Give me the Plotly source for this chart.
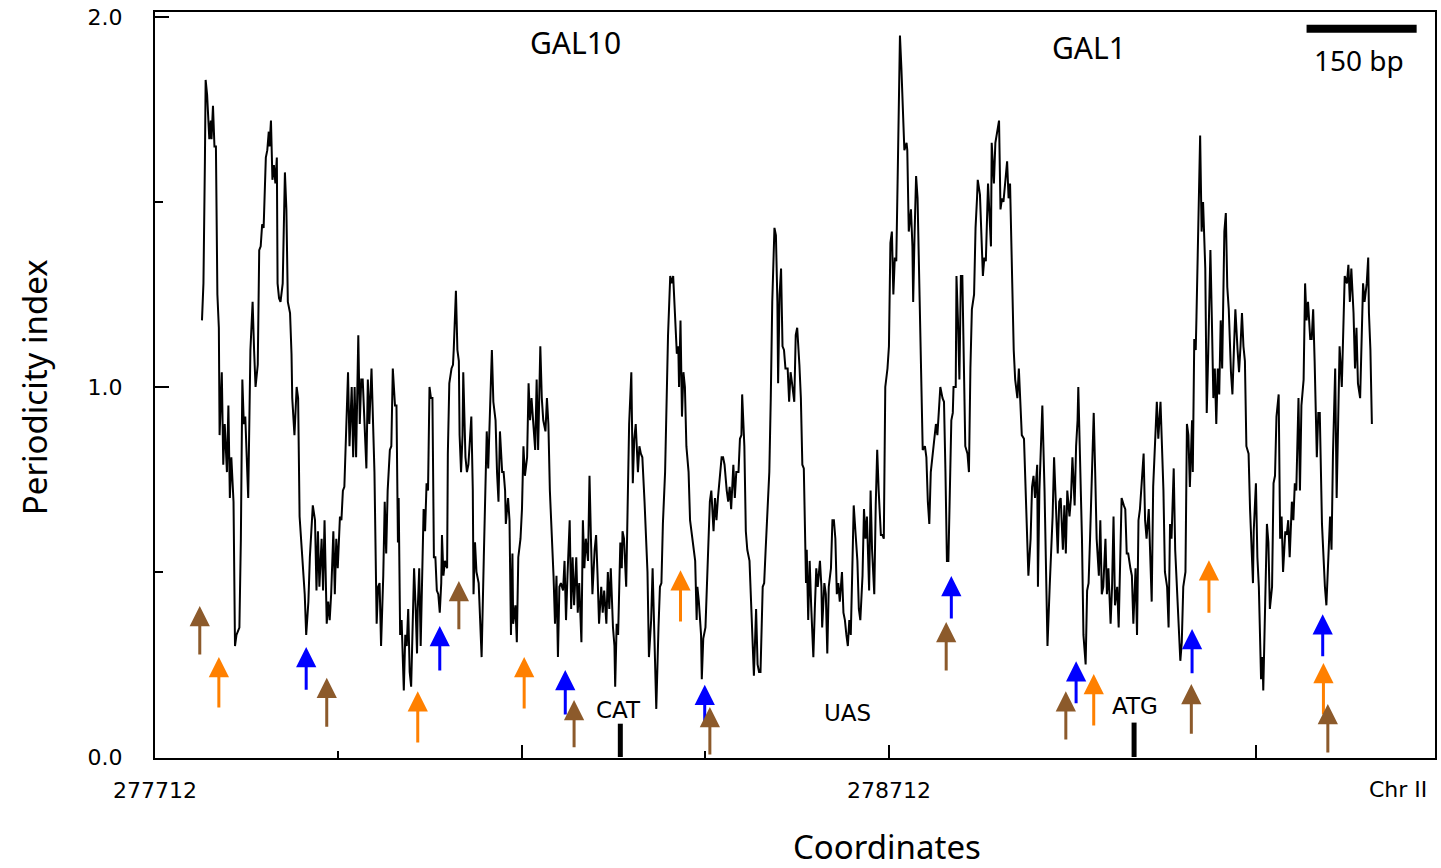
import plotly.graph_objects as go

START = 277712  # Chr II coordinate at the left edge of the plot

# ---- periodicity trace (offset in bp from START, periodicity index) ----
offset_bp = [
    64, 66, 68, 69, 71, 74, 76, 77, 79, 81, 83, 85, 87, 88, 91, 93, 95, 98, 100, 102,
    104, 107, 109, 111, 115, 117, 119, 121, 123, 127, 130, 133, 135, 137, 140, 142, 144, 146, 148, 151,
    153, 155, 156, 158, 160, 162, 164, 166, 167, 169, 171, 174, 177, 179, 181, 184, 186, 187, 190, 193,
    195, 197, 200, 202, 204, 206, 209, 211, 213, 215, 218, 220, 222, 224, 227, 229, 231, 234, 236, 238,
    240, 243, 245, 247, 249, 252, 254, 256, 258, 261, 263, 265, 268, 270, 272, 274, 277, 279, 281, 283,
    286, 288, 290, 292, 295, 297, 299, 302, 304, 306, 308, 311, 313, 315, 317, 320,
    322, 324, 327, 329, 331, 332, 334, 336, 339, 341, 343, 345, 347, 349, 351, 353, 355, 357, 358, 360,
    362, 364, 366, 368, 370, 372, 374, 376, 378, 380, 382, 384, 386, 388, 390, 391, 393, 395, 398, 399,
    401, 404, 406, 407, 409, 410, 412, 414, 415, 417, 419, 420, 423, 425, 427, 429, 431, 433, 434, 436,
    438, 441, 443, 445, 448, 450, 452, 454, 457, 459, 461, 464, 466, 468, 470, 473, 475, 477, 478, 481,
    483, 485, 487, 488, 491, 493, 495, 498, 500, 502, 504, 507, 509, 511, 513, 516, 518, 520, 522, 525,
    527, 529, 532, 534, 536, 538, 541, 543, 545, 547, 549, 551, 553, 556, 558, 560, 562, 565, 567, 569,
    571, 574, 576, 578, 581, 583,
    585, 587, 590, 592, 594, 596, 599, 601, 603, 605, 608, 610, 612, 615, 617, 619, 621, 624, 626, 627,
    629, 631, 634, 636, 637, 639, 642, 644, 646, 649, 651, 653, 655, 658, 660, 662, 664, 667, 669, 671,
    673, 676, 678, 680, 683, 686, 688, 690, 692, 695, 697, 699, 702, 704, 706, 708, 711, 713, 714, 716,
    718, 720, 722, 724, 727, 729, 731, 733, 736, 738, 739, 741, 744, 745, 747, 750, 752, 754, 756, 758,
    761, 763, 765, 767, 770, 772, 774, 776, 779, 781, 783, 785, 788, 790, 792, 795, 797, 799, 800, 803,
    805, 807, 810, 812, 814, 816, 819, 821, 823, 825, 828, 830, 832, 834, 837, 839, 841, 844, 846, 848,
    849,
    851, 853, 855, 857, 859, 862, 864, 866, 868, 871, 873, 875, 878, 880, 882, 884, 887, 888, 890, 892,
    894, 897, 899, 901, 903, 906, 908, 909, 912, 914, 916, 918, 921, 923, 925, 927, 929, 931, 933, 936,
    938, 940, 942, 944, 946, 948, 950, 952, 955, 957, 959, 961, 964, 966, 968, 970, 973, 975, 977, 980,
    982, 984, 986, 989, 991, 993, 995, 998, 1000, 1002, 1004, 1006, 1008, 1010, 1012, 1014, 1015, 1017, 1019, 1021,
    1024, 1025, 1027, 1030, 1032, 1033, 1035, 1037, 1039, 1042, 1044, 1046, 1049, 1051, 1053, 1055, 1057, 1059, 1061, 1064,
    1066, 1068, 1070, 1073, 1075, 1077, 1079, 1081, 1083, 1085, 1087, 1088, 1091, 1092, 1094, 1096, 1098, 1100, 1102, 1104,
    1107, 1109,
    1111, 1113, 1116, 1118, 1120, 1121, 1124, 1126, 1128, 1130, 1132, 1135, 1137, 1139, 1140, 1143, 1145, 1147, 1150, 1152,
    1154, 1156, 1159, 1161, 1163, 1165, 1168, 1170, 1172, 1175, 1177, 1179, 1181, 1184, 1186, 1188, 1190, 1193, 1195, 1197,
    1199, 1202, 1203, 1205, 1208, 1209, 1212, 1214, 1216, 1219, 1221, 1223, 1225, 1228, 1230, 1232, 1234, 1237, 1239, 1241,
    1243, 1246, 1248, 1250, 1253, 1255, 1257, 1258, 1261, 1263, 1265, 1268, 1270, 1272, 1274, 1277, 1279, 1281, 1283, 1286,
    1288, 1290, 1292, 1295, 1297, 1299, 1302, 1304, 1306, 1308, 1311, 1313, 1315, 1317, 1320, 1322, 1324, 1326, 1329, 1331,
    1333, 1336, 1338, 1340, 1342, 1345, 1347, 1349, 1351, 1354, 1356, 1358, 1360, 1363, 1365, 1367, 1370, 1372, 1374,
    1376, 1379, 1381, 1383, 1385, 1388, 1390, 1392, 1394, 1397, 1399, 1401, 1404, 1406, 1408, 1410, 1413, 1414, 1416, 1418,
    1419, 1422, 1424, 1426, 1428, 1431, 1433, 1435, 1438, 1440, 1442, 1444, 1446, 1448, 1450, 1452, 1454, 1457, 1459, 1461,
    1463, 1466, 1468, 1470, 1472, 1475, 1477, 1479, 1481, 1483, 1485, 1487, 1490, 1492, 1494, 1496, 1497, 1500, 1502, 1504,
    1507, 1509, 1510, 1512, 1515, 1517, 1519, 1522, 1524, 1526, 1528, 1531, 1533, 1535, 1537, 1540, 1542, 1544, 1546, 1549,
    1551, 1553, 1555, 1558, 1560, 1562, 1565, 1567, 1569, 1571, 1574, 1576, 1578, 1580, 1583, 1585, 1587, 1590, 1592, 1594,
    1596, 1599, 1601, 1603, 1605, 1608, 1610, 1612, 1614, 1617, 1619, 1621, 1624, 1626, 1628, 1630, 1633, 1635, 1637, 1639,
    1642, 1644, 1646, 1648, 1651, 1653, 1654, 1656, 1658,
]

periodicity = [
    1.18, 1.28, 1.61, 1.83, 1.79, 1.67, 1.72, 1.67, 1.76, 1.65, 1.65, 1.25, 1.16, 0.87, 1.04, 0.79, 0.90, 0.77, 0.95, 0.70,
    0.81, 0.69, 0.30, 0.33, 0.35, 0.59, 1.02, 0.90, 0.92, 0.70, 1.10, 1.23, 1.10, 1.00, 1.06, 1.37, 1.38, 1.44, 1.43, 1.62,
    1.64, 1.69, 1.65, 1.72, 1.56, 1.60, 1.55, 1.62, 1.28, 1.24, 1.23, 1.28, 1.58, 1.48, 1.23, 1.20, 1.09, 0.97, 0.87, 1.00,
    0.97, 0.65, 0.56, 0.51, 0.44, 0.33, 0.42, 0.54, 0.61, 0.68, 0.64, 0.45, 0.61, 0.46, 0.59, 0.45, 0.64, 0.36, 0.42, 0.37,
    0.44, 0.61, 0.44, 0.59, 0.51, 0.65, 0.64, 0.72, 0.73, 0.90, 1.04, 0.84, 1.00, 0.81, 1.00, 0.81, 1.14, 0.90, 1.02, 1.02,
    0.90, 0.78, 1.02, 0.90, 1.05, 0.90, 0.77, 0.36, 0.46, 0.47, 0.30, 0.49, 0.69, 0.55, 0.72, 0.83,
    0.84, 1.05, 0.95, 0.95, 0.58, 0.70, 0.33, 0.37, 0.18, 0.33, 0.30, 0.40, 0.23, 0.19, 0.33, 0.51, 0.41, 0.28, 0.40, 0.51,
    0.30, 0.53, 0.67, 0.61, 0.74, 0.72, 1.00, 0.97, 0.97, 0.54, 0.54, 0.45, 0.44, 0.39, 0.47, 0.60, 0.49, 0.53, 0.51, 0.82,
    1.01, 1.05, 1.06, 1.10, 1.19, 1.26, 1.10, 1.07, 0.87, 0.77, 0.87, 1.04, 0.81, 0.77, 0.79, 0.87, 0.92, 0.72, 0.44, 0.58,
    0.50, 0.47, 0.36, 0.27, 0.54, 0.74, 0.88, 0.78, 1.02, 1.10, 0.96, 0.91, 0.77, 0.69, 0.88, 0.77, 0.77, 0.72, 0.63, 0.70,
    0.64, 0.33, 0.55, 0.36, 0.41, 0.31, 0.54, 0.59, 0.67, 0.84, 0.76, 0.81, 1.01, 0.91, 0.97, 0.87, 0.83, 1.02, 0.83, 1.11,
    0.97, 0.91, 0.88, 0.97, 0.90, 0.72, 0.59, 0.49, 0.36, 0.49, 0.27, 0.46, 0.47, 0.45, 0.53, 0.37, 0.49, 0.64, 0.40, 0.54,
    0.41, 0.54, 0.39, 0.47, 0.31, 0.64,
    0.51, 0.59, 0.53, 0.76, 0.59, 0.44, 0.56, 0.60, 0.49, 0.36, 0.46, 0.39, 0.45, 0.36, 0.50, 0.40, 0.51, 0.35, 0.30, 0.19,
    0.36, 0.33, 0.58, 0.51, 0.61, 0.59, 0.46, 0.72, 0.90, 1.04, 0.74, 0.86, 0.90, 0.77, 0.84, 0.82, 0.81, 0.69, 0.60, 0.50,
    0.27, 0.37, 0.51, 0.37, 0.13, 0.35, 0.46, 0.47, 0.63, 0.77, 1.00, 1.14, 1.30, 1.28, 1.30, 1.21, 1.09, 1.11, 1.00, 1.18,
    0.92, 1.04, 1.00, 0.84, 0.77, 0.64, 0.61, 0.58, 0.53, 0.37, 0.46, 0.42, 0.33, 0.21, 0.32, 0.35, 0.46, 0.59, 0.69, 0.72,
    0.61, 0.70, 0.64, 0.70, 0.77, 0.81, 0.81, 0.79, 0.72, 0.69, 0.73, 0.67, 0.79, 0.70, 0.77, 0.77, 0.86, 0.87, 0.98, 0.84,
    0.61, 0.56, 0.53, 0.44, 0.33, 0.22, 0.40, 0.25, 0.23, 0.23, 0.46, 0.47, 0.56, 0.65, 0.77, 0.97, 1.23, 1.43, 1.41, 1.23,
    1.01,
    1.25, 1.32, 1.11, 1.10, 1.05, 1.05, 0.96, 1.04, 1.01, 0.96, 1.14, 1.16, 1.06, 0.97, 0.79, 0.78, 0.47, 0.56, 0.37, 0.53,
    0.41, 0.27, 0.40, 0.51, 0.46, 0.53, 0.46, 0.35, 0.47, 0.44, 0.28, 0.46, 0.51, 0.64, 0.64, 0.59, 0.44, 0.47, 0.42, 0.50,
    0.39, 0.37, 0.33, 0.30, 0.37, 0.33, 0.50, 0.68, 0.59, 0.53, 0.40, 0.37, 0.49, 0.67, 0.59, 0.65, 0.45, 0.72, 0.56, 0.44,
    0.68, 0.83, 0.72, 0.60, 0.60, 0.59, 1.00, 1.05, 1.11, 1.39, 1.42, 1.25, 1.35, 1.34, 1.58, 1.88, 1.95, 1.86, 1.72, 1.64,
    1.66, 1.64, 1.42, 1.48, 1.38, 1.23, 1.42, 1.57, 1.51, 1.20, 0.97, 0.83, 0.84, 0.81, 0.69, 0.63, 0.77, 0.81, 0.84, 0.90,
    0.87, 0.93, 1.00, 0.97, 0.96, 0.77, 0.53, 0.53, 0.73, 0.91, 0.93, 1.00, 1.00, 1.30, 1.18, 1.02, 1.30, 1.30, 1.07, 0.84,
    0.82, 0.77,
    1.05, 1.21, 1.25, 1.43, 1.51, 1.56, 1.52, 1.38, 1.30, 1.35, 1.34, 1.55, 1.48, 1.38, 1.66, 1.55, 1.66, 1.69, 1.72, 1.48,
    1.51, 1.50, 1.56, 1.61, 1.51, 1.55, 1.28, 1.10, 1.02, 0.97, 1.05, 0.95, 0.87, 0.86, 0.72, 0.59, 0.49, 0.59, 0.73, 0.76,
    0.70, 0.79, 0.46, 0.72, 0.87, 0.95, 0.72, 0.45, 0.30, 0.46, 0.56, 0.65, 0.81, 0.67, 0.55, 0.69, 0.70, 0.56, 0.68, 0.55,
    0.72, 0.65, 0.70, 0.81, 0.68, 0.84, 0.91, 1.00, 0.78, 0.59, 0.33, 0.25, 0.45, 0.47, 0.59, 0.79, 0.93, 0.77, 0.59, 0.49,
    0.64, 0.44, 0.46, 0.59, 0.44, 0.51, 0.36, 0.46, 0.65, 0.41, 0.46, 0.35, 0.53, 0.70, 0.68, 0.67, 0.55, 0.55, 0.51, 0.49,
    0.36, 0.51, 0.33, 0.64, 0.67, 0.77, 0.82, 0.64, 0.59, 0.67, 0.55, 0.42, 0.73, 0.87, 0.96, 0.86, 0.96, 0.84, 0.72,
    0.50, 0.46, 0.35, 0.63, 0.59, 0.78, 0.56, 0.46, 0.37, 0.26, 0.31, 0.46, 0.50, 0.90, 0.87, 0.73, 0.91, 0.77, 1.13, 1.10,
    1.19, 1.44, 1.68, 1.42, 1.50, 1.32, 0.93, 1.09, 1.37, 1.18, 0.97, 1.05, 0.90, 1.05, 0.98, 1.18, 1.05, 1.42, 1.47, 1.27,
    1.21, 1.04, 0.98, 1.10, 1.21, 1.10, 1.04, 1.11, 1.20, 1.11, 1.07, 0.84, 0.82, 0.67, 0.55, 0.47, 0.61, 0.74, 0.54, 0.46,
    0.21, 0.27, 0.18, 0.33, 0.63, 0.58, 0.40, 0.46, 0.74, 0.76, 0.92, 0.98, 0.59, 0.65, 0.50, 0.61, 0.60, 0.64, 0.54, 0.69,
    0.64, 0.74, 0.72, 0.97, 0.72, 0.95, 1.02, 1.28, 1.18, 1.23, 1.13, 1.13, 1.21, 1.07, 0.81, 0.93, 0.93, 0.63, 0.53, 0.46,
    0.41, 0.53, 0.65, 0.56, 0.82, 1.05, 0.70, 0.90, 1.11, 1.00, 1.18, 1.30, 1.28, 1.33, 1.23, 1.32, 1.20, 1.05, 1.16, 1.01,
    0.97, 1.16, 1.28, 1.23, 1.28, 1.35, 1.20, 1.10, 0.90,
]

# ---- arrows: offset (bp), tip value, tail value, colour class ----
arrow_offset = [61, 87, 206, 234, 358, 388, 414, 503, 559, 571, 716, 749, 756,
                1085, 1078, 1241, 1255, 1279, 1413, 1412, 1436, 1591, 1592, 1598]
arrow_tip = [0.408, 0.270, 0.297, 0.214, 0.178, 0.354, 0.476, 0.270, 0.235, 0.154, 0.505, 0.195, 0.135,
             0.489, 0.365, 0.178, 0.259, 0.224, 0.346, 0.197, 0.532, 0.386, 0.254, 0.143]
arrow_tail = [0.273, 0.130, 0.178, 0.078, 0.035, 0.230, 0.341, 0.127, 0.111, 0.022, 0.362, 0.078, 0.003,
              0.370, 0.230, 0.043, 0.141, 0.081, 0.222, 0.059, 0.386, 0.268, 0.111, 0.008]
arrow_kind = ["brown", "orange", "blue", "brown", "orange", "blue", "brown", "orange", "blue", "brown",
              "orange", "blue", "brown", "blue", "brown", "brown", "blue", "orange", "blue", "brown",
              "orange", "blue", "orange", "brown"]
kind_color = {"brown": "#8C5A2B", "orange": "#FF8000", "blue": "#0000FF"}

# ---- gene / feature labels ----
gene_labels = ["GAL10", "GAL1"]
gene_offset = [573, 1272]
gene_y = [1.930, 1.917]

feature_labels = ["CAT", "UAS", "ATG"]
feature_offset = [632, 944, 1335]
feature_y = [0.127, 0.120, 0.138]

bar_offset = [634, 1334]      # CAT and ATG marks on the axis
bar_height = [0.090, 0.093]

scale_start = 1569            # 150 bp scale bar
scale_len = 150
scale_y = 1.968
scale_label = "150 bp"
scale_label_y = 1.884

x_major = [277712, 278212, 278712, 279212]
x_major_text = ["277712", "", "278712", ""]
x_minor = [277962, 278462]
y_major = [0.0, 1.0, 2.0]
y_major_text = ["0.0", "1.0", "2.0"]
y_minor = [0.5, 1.5]

fig = go.Figure()

fig.add_trace(go.Scatter(
    x=[START + o for o in offset_bp], y=periodicity, mode="lines",
    line=dict(color="black", width=2), hoverinfo="skip", showlegend=False))

bx, by = [], []
for o, h in zip(bar_offset, bar_height):
    bx += [START + o, START + o, None]
    by += [0, h, None]
fig.add_trace(go.Scatter(x=bx, y=by, mode="lines", line=dict(color="black", width=5),
                         hoverinfo="skip", showlegend=False))

fig.add_trace(go.Scatter(x=[START + scale_start, START + scale_start + scale_len],
                         y=[scale_y, scale_y], mode="lines",
                         line=dict(color="black", width=8), hoverinfo="skip", showlegend=False))

annotations = []
for o, tip, tail, k in zip(arrow_offset, arrow_tip, arrow_tail, arrow_kind):
    annotations.append(dict(
        x=START + o, y=tip, ax=START + o, ay=tail, xref="x", yref="y", axref="x", ayref="y",
        text="", showarrow=True, arrowhead=2, arrowsize=1.35, arrowwidth=3,
        arrowcolor=kind_color[k], standoff=0))

for t, o, yv in zip(gene_labels, gene_offset, gene_y):
    annotations.append(dict(x=START + o, y=yv, xref="x", yref="y", text=t, showarrow=False,
                            xanchor="center", yanchor="middle",
                            font=dict(family="Noto Sans", size=30, color="black")))

for t, o, yv in zip(feature_labels, feature_offset, feature_y):
    annotations.append(dict(x=START + o, y=yv, xref="x", yref="y", text=t, showarrow=False,
                            xanchor="center", yanchor="middle",
                            font=dict(family="DejaVu Sans", size=23, color="black")))

annotations.append(dict(x=START + scale_start + scale_len / 2 - 3, y=scale_label_y, xref="x", yref="y",
                        text=scale_label, showarrow=False, xanchor="center", yanchor="middle",
                        font=dict(family="Noto Sans", size=28, color="black")))

annotations.append(dict(x=0.9711, y=-0.042, xref="paper", yref="paper", text="Chr II",
                        showarrow=False, xanchor="center", yanchor="middle",
                        font=dict(family="DejaVu Sans", size=22, color="black")))
annotations.append(dict(x=0.5718, y=-0.118, xref="paper", yref="paper", text="Coordinates",
                        showarrow=False, xanchor="center", yanchor="middle",
                        font=dict(family="Noto Sans", size=33, color="black")))
annotations.append(dict(x=-0.0946, y=0.497, xref="paper", yref="paper", text="Periodicity index",
                        showarrow=False, xanchor="center", yanchor="middle", textangle=-90,
                        font=dict(family="Noto Sans", size=33, color="black")))

fig.update_layout(
    width=1441, height=868,
    margin=dict(l=155, r=4, t=12, b=110),
    paper_bgcolor="white", plot_bgcolor="white",
    showlegend=False,
    annotations=annotations,
    xaxis=dict(
        range=[START, START + 1744], showline=True, mirror=True, linecolor="black", linewidth=2,
        showgrid=False, zeroline=False,
        ticks="inside", ticklen=13, tickwidth=1.5, tickcolor="black",
        tickmode="array", tickvals=x_major, ticktext=x_major_text,
        tickfont=dict(family="DejaVu Sans", size=22, color="black"),
        ticklabelstandoff=12,
        minor=dict(ticks="inside", tickvals=x_minor, ticklen=7, tickwidth=1.5, tickcolor="black"),
    ),
    yaxis=dict(
        range=[-0.0027, 2.0135], showline=True, mirror=True, linecolor="black", linewidth=2,
        showgrid=False, zeroline=False,
        ticks="inside", ticklen=14, tickwidth=1.5, tickcolor="black",
        tickmode="array", tickvals=y_major, ticktext=y_major_text,
        tickfont=dict(family="DejaVu Sans", size=22, color="black"),
        ticklabelstandoff=26,
        minor=dict(ticks="inside", tickvals=y_minor, ticklen=8, tickwidth=1.5, tickcolor="black"),
    ),
)

fig.write_html("out.html")
